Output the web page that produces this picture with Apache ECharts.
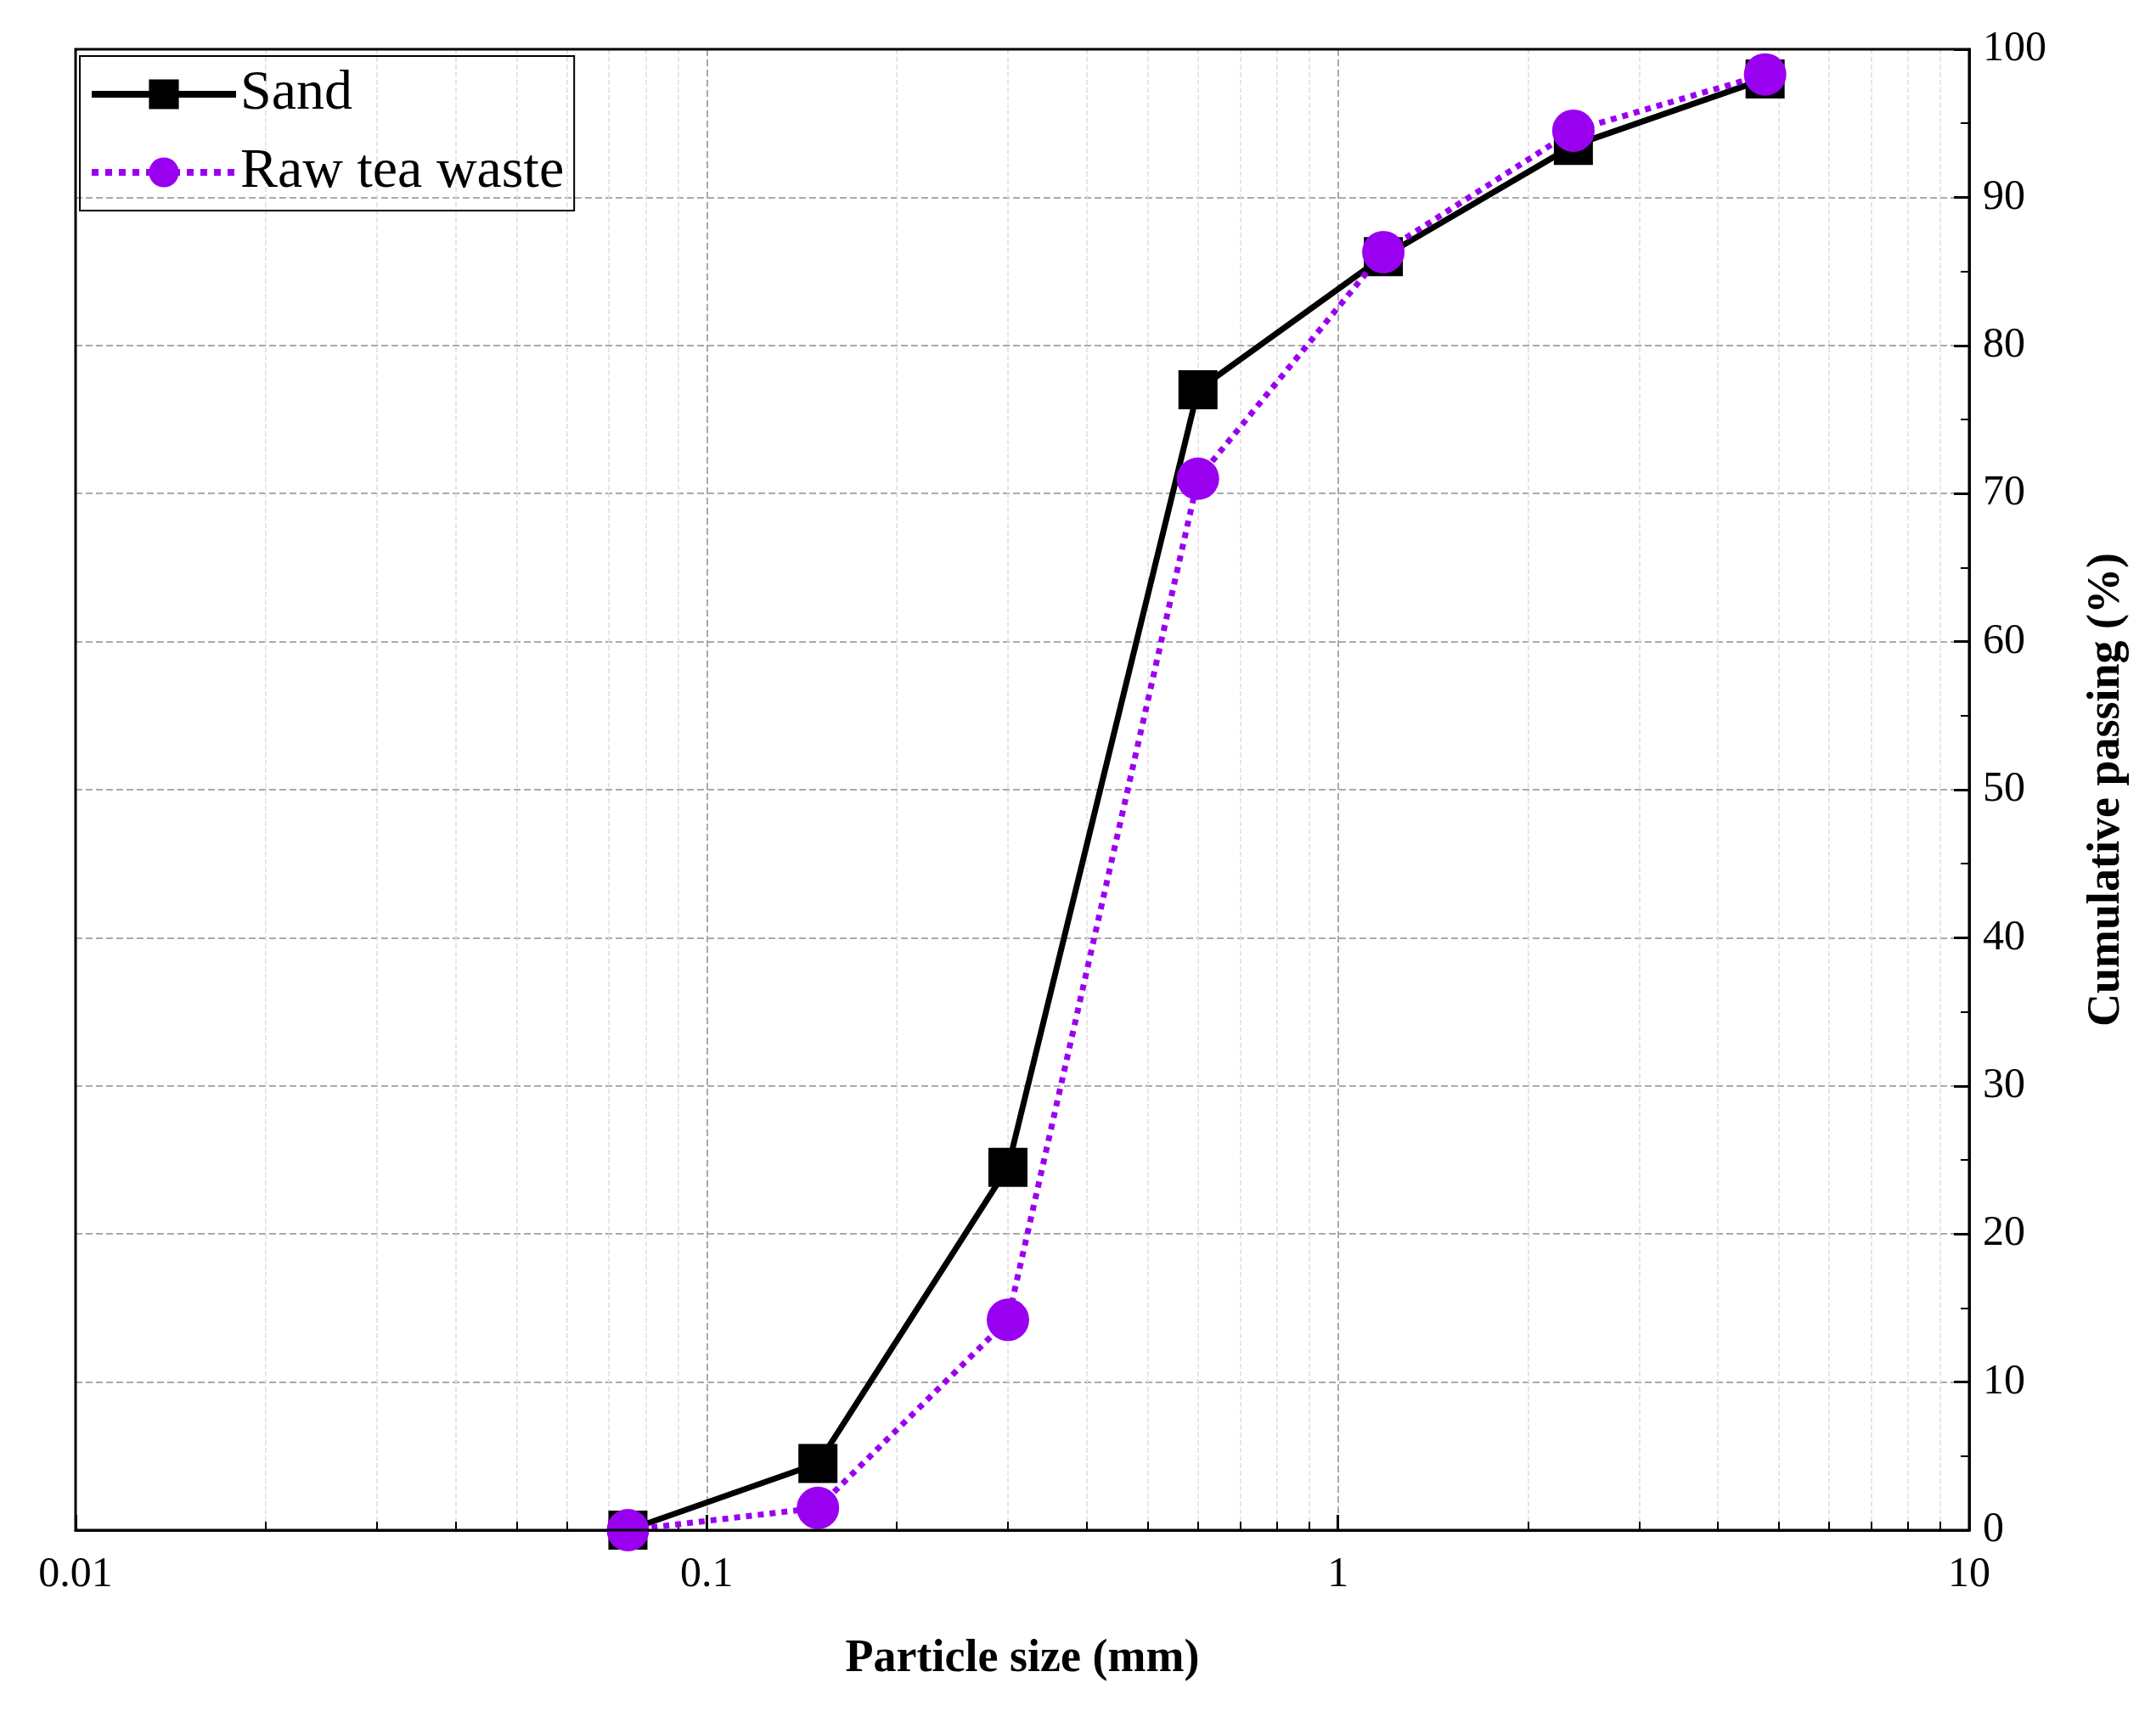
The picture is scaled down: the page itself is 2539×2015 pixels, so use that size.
<!DOCTYPE html>
<html>
<head>
<meta charset="utf-8">
<script src="https://cdn.jsdelivr.net/npm/echarts@6/dist/echarts.min.js"></script>
<style>html,body{margin:0;padding:0;background:#fff}</style>
</head>
<body>
<div id="main" style="width:2539px;height:2015px"></div>
<script>
// particle sizes (mm) and cumulative passing (%)
const sizes = [0.075, 0.15, 0.3, 0.6, 1.18, 2.36, 4.75];
const sand = [0, 4.5, 24.5, 77, 86, 93.5, 98];
const teaWaste = [0, 1.5, 14.2, 71, 86.3, 94.5, 98.3];
const yTicks = [0, 10, 20, 30, 40, 50, 60, 70, 80, 90, 100];

const font = 'Liberation Serif';
const chart = echarts.init(document.getElementById('main'));
const option = {
    animation: false,
    textStyle: { fontFamily: font },
    grid: { left: 89, right: 220, top: 58, bottom: 213 },
    legend: {
        left: 94, top: 66, orient: 'vertical',
        data: ['Sand', 'Raw tea waste'],
        itemWidth: 170, itemHeight: 44, itemGap: 26,
        padding: [12, 12, 12, 10],
        borderColor: '#000', borderWidth: 2,
        lineStyle: { width: 8 },
        textStyle: { fontFamily: font, fontSize: 66, color: '#000' }
    },
    xAxis: {
        type: 'log', logBase: 10, min: 0.01, max: 10,
        name: 'Particle size (mm)', nameLocation: 'middle', nameGap: 125,
        nameTextStyle: { fontFamily: font, fontSize: 54, fontWeight: 'bold', color: '#000' },
        axisLine: { onZero: false, lineStyle: { color: '#000', width: 3 } },
        axisTick: { inside: true, length: 18, lineStyle: { width: 3 } },
        minorTick: { show: true, splitNumber: 9, length: 10, lineStyle: { color: '#000', width: 2 } },
        axisLabel: { fontSize: 50, color: '#000', margin: 28,
            formatter: v => String(+v.toPrecision(3)) },
        splitLine: { show: true, lineStyle: { type: 'dashed', color: '#aaa', width: 2 } },
        minorSplitLine: { show: true, lineStyle: { type: 'dashed', color: '#ddd', width: 1.5 } }
    },
    yAxis: {
        type: 'value', position: 'right', min: 0, max: 100, interval: 10,
        name: 'Cumulative passing (%)', nameLocation: 'middle', nameGap: 135, nameRotate: 90,
        nameTextStyle: { fontFamily: font, fontSize: 54, fontWeight: 'bold', color: '#000' },
        axisLine: { show: true, lineStyle: { color: '#000', width: 3 } },
        axisTick: { inside: true, length: 18, lineStyle: { width: 3 } },
        minorTick: { show: true, splitNumber: 2, length: 10, lineStyle: { color: '#000', width: 2 } },
        axisLabel: { fontSize: 50, color: '#000', margin: 16,
            formatter: v => yTicks.includes(v) ? String(v) : '' },
        splitLine: { show: true, lineStyle: { type: 'dashed', color: '#aaa', width: 2 } }
    },
    series: [
        {
            name: 'Sand', type: 'line',
            data: sizes.map((s, i) => [s, sand[i]]),
            symbol: 'rect', symbolSize: 46,
            itemStyle: { color: '#000' },
            lineStyle: { color: '#000', width: 7 }, z: 2
        },
        {
            name: 'Raw tea waste', type: 'line',
            data: sizes.map((s, i) => [s, teaWaste[i]]),
            symbol: 'circle', symbolSize: 50,
            itemStyle: { color: '#9a00f0' },
            lineStyle: { color: '#9a00f0', width: 7, type: 'dotted' }, z: 3
        }
    ],
    graphic: [{
        type: 'rect', shape: { x: 89, y: 58, width: 2539 - 89 - 220, height: 2015 - 58 - 213 },
        style: { fill: 'none', stroke: '#000', lineWidth: 3 }, silent: true, z: 100
    }]
};
chart.setOption(option);
</script>
</body>
</html>
